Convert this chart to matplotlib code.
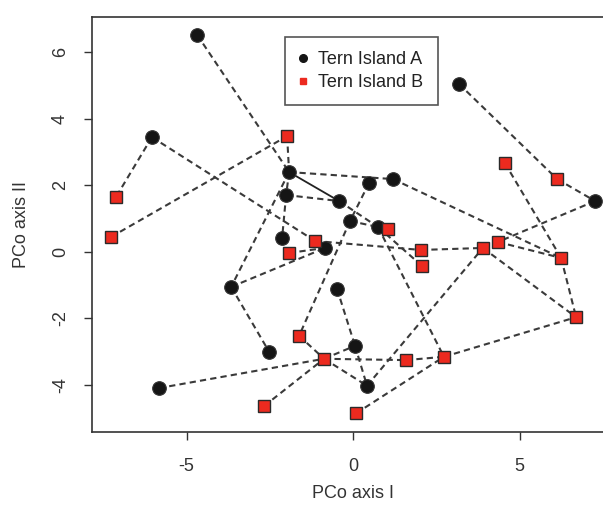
import matplotlib
matplotlib.use("Agg")
import matplotlib.pyplot as plt
from matplotlib.lines import Line2D

plt.rcParams['font.family'] = ['Liberation Sans', 'DejaVu Sans']

# Tern Island A (black circles)
a_x = [-4.68, -6.04, 3.18, 7.27, -1.92, -2.01, -0.42, 0.48, 1.20, -0.09,
       0.75, -2.13, -0.84, -3.66, -0.48, -2.52, 0.06, 0.42, -5.83]
a_y = [6.51, 3.44, 5.04, 1.52, 2.39, 1.70, 1.52, 2.06, 2.18, 0.92,
       0.74, 0.41, 0.11, -1.06, -1.12, -3.01, -2.83, -4.03, -4.10]

# Tern Island B (red squares)
b_x = [-7.12, -7.27, -1.98, 4.56, 6.13, -1.14, -1.92, 1.05, 2.04, 2.07,
       3.90, 4.35, 6.25, 6.70, -1.62, -0.87, 2.73, 1.59, -2.67, 0.09]
b_y = [1.64, 0.44, 3.47, 2.66, 2.18, 0.32, -0.04, 0.68, 0.05, -0.43,
       0.11, 0.29, -0.19, -1.97, -2.53, -3.22, -3.16, -3.26, -4.64, -4.86]

legend_labels = ["Tern Island A", "Tern Island B"]
x_ticks = [-5, 0, 5]
y_ticks = [-4, -2, 0, 2, 4, 6]

dashed_edges = [
    ("A1", "A5"), ("A2", "B1"), ("A2", "B6"), ("B2", "B3"), ("B3", "A5"),
    ("A5", "A6"), ("A5", "A9"), ("A6", "A7"), ("A5", "A14"), ("A6", "A12"),
    ("A8", "A10"), ("A7", "A11"), ("A10", "A11"), ("A10", "B15"),
    ("A14", "A13"), ("A14", "A16"), ("B7", "A13"), ("B6", "B9"),
    ("B9", "B11"), ("B11", "B12"), ("A4", "B12"), ("B12", "B13"),
    ("B4", "B13"), ("B13", "B14"), ("A9", "B13"), ("A3", "B5"),
    ("B5", "A4"), ("A11", "B10"), ("A11", "B17"), ("B11", "B14"),
    ("A18", "B11"), ("B17", "B14"), ("B20", "B17"), ("B16", "B18"),
    ("B18", "B17"), ("B19", "B16"), ("A19", "B16"), ("B15", "B16"),
    ("B16", "A18"), ("A15", "A17"), ("A17", "A18"), ("B16", "A17"),
]
solid_edges = [("A5", "A7")]


def pt(name):
    i = int(name[1:]) - 1
    if name[0] == "A":
        return a_x[i], a_y[i]
    return b_x[i], b_y[i]


fig = plt.figure(figsize=(6.03, 5.07), dpi=100)
ax = fig.add_axes([92 / 603, (507 - 432) / 507, 522.4 / 603, 415 / 507])

line_col = '#3a3a3a'
for p, q in dashed_edges:
    (x1, y1), (x2, y2) = pt(p), pt(q)
    ax.plot([x1, x2], [y1, y2], color=line_col, lw=1.5, ls=(0, (3, 2)),
            dash_capstyle='butt', zorder=1)
for p, q in solid_edges:
    (x1, y1), (x2, y2) = pt(p), pt(q)
    ax.plot([x1, x2], [y1, y2], color='#222222', lw=1.3, zorder=1)

ax.plot(a_x, a_y, 'o', ms=9.8, mfc='#151515', mec='#333333', mew=0.8,
        ls='none', zorder=3)
ax.plot(b_x, b_y, 's', ms=8, mfc='#ec2a1f', mec='#2a2a2a', mew=1.0,
        ls='none', zorder=4)

ax.set_xlim(-7.84, 7.85)
ax.set_ylim(-5.42, 7.05)
ax.set_xticks(x_ticks)
ax.set_yticks(y_ticks)
ax.set_xticklabels([str(v) for v in x_ticks])
ax.set_yticklabels([str(v) for v in y_ticks])

txt_col = '#333333'
fs = 13
ax.tick_params(direction='out', length=5.5, width=1.0, colors=txt_col,
               labelsize=fs)
ax.tick_params(axis='x', pad=13)
ax.tick_params(axis='y', pad=11, labelrotation=90)
for lbl in ax.get_yticklabels():
    lbl.set_va('center')

for s in ax.spines.values():
    s.set_color('#333333')
    s.set_linewidth(1.2)

ax.set_xlabel('PCo axis I', fontsize=fs, color=txt_col)
ax.xaxis.set_label_coords(0.5, (432 - 494) / 415)
ax.xaxis.label.set_va('center')
ax.set_ylabel('PCo axis II', fontsize=fs, color=txt_col)
ax.yaxis.set_label_coords((22 - 92) / 522.4, 0.5)
ax.yaxis.label.set_va('center')

handles = [
    Line2D([], [], marker='o', ls='none', ms=5.5, mfc='#151515', mec='#151515'),
    Line2D([], [], marker='s', ls='none', ms=5, mfc='#ec2a1f', mec='#ec2a1f'),
]
leg = ax.legend(handles, legend_labels, loc='upper left',
                bbox_to_anchor=((285 - 92) / 522.4, (432 - 37) / 415),
                borderaxespad=0, frameon=True, fancybox=False,
                edgecolor='#555555', framealpha=1, fontsize=fs,
                handlelength=0.35, handletextpad=0.7, borderpad=0.8,
                labelspacing=0.31)
leg.get_frame().set_linewidth(1.2)
for t in leg.get_texts():
    t.set_color('#222222')

fig.savefig('out.png', dpi=100)
